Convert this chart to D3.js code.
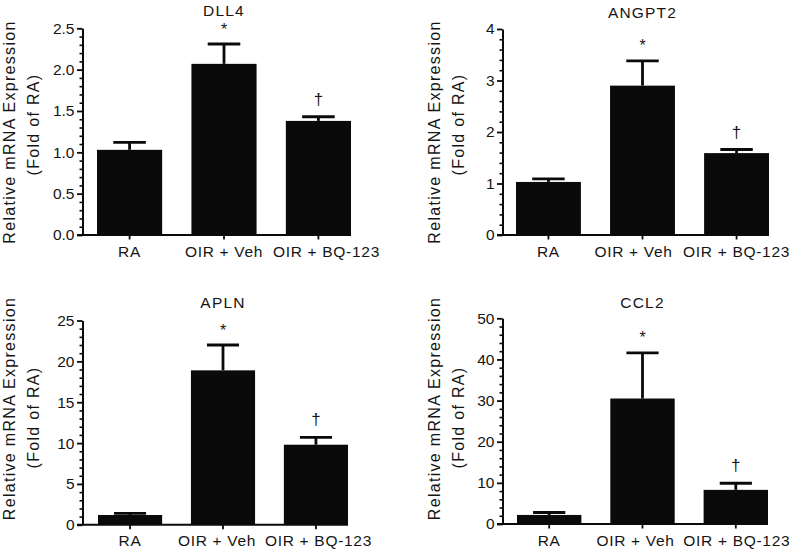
<!DOCTYPE html>
<html><head><meta charset="utf-8">
<script src="https://cdn.jsdelivr.net/npm/d3@7"></script>
<style>
body{margin:0;background:#fff}
svg{display:block}
text{font-family:"Liberation Sans",Arial,sans-serif;fill:#151515}
</style>
</head><body><svg id="c" width="797" height="550"></svg>
<script>
// ---------------- data ----------------
const categories = ["RA", "OIR + Veh", "OIR + BQ-123"];
const panelTitles = ["DLL4", "ANGPT2", "APLN", "CCL2"];
const dll4Mean = [1.03, 2.07, 1.38];
const dll4Err  = [0.09, 0.24, 0.05];
const angpt2Mean = [1.03, 2.90, 1.59];
const angpt2Err  = [0.06, 0.48, 0.07];
const aplnMean = [1.2, 18.9, 9.8];
const aplnErr  = [0.2, 3.1, 0.9];
const ccl2Mean = [2.2, 30.5, 8.3];
const ccl2Err  = [0.6, 11.1, 1.6];
const sigMarks = ["", "*", "\u2020"];
const yMaxima = [2.5, 4, 25, 50];
const yMajorSteps = [0.5, 1, 5, 10];
const yMinorSteps = [0.1, 0.2, 1, 2];
const yTickFormats = [".1f", "d", "d", "d"];
const yTitleLines = ["Relative mRNA Expression", "(Fold of RA)"];

const means = [dll4Mean, angpt2Mean, aplnMean, ccl2Mean];
const errs = [dll4Err, angpt2Err, aplnErr, ccl2Err];

// ---------------- layout ----------------
const layout = [
  {ax: 82.5,  top: 28.3,  bottom: 235,   bars: [97, 351],  titleY: 16,  yt: [9, 132, 33, 124.5],     ldx: [0, 0, 8]},
  {ax: 502.5, top: 29,    bottom: 235,   bars: [516, 769], titleY: 18,  yt: [434, 132, 458, 124.5],  ldx: [0, -9, 0]},
  {ax: 82.5,  top: 320.5, bottom: 524.8, bars: [98, 348],  titleY: 308, yt: [9, 408.5, 33.5, 417.5], ldx: [0, -6, 2.5]},
  {ax: 502.5, top: 318.3, bottom: 524,   bars: [517, 768], titleY: 308, yt: [434, 408.5, 458, 417.5], ldx: [0, -7, 1]}
];
const sigStyle = {"*": {dy: 9.5, size: 16}, "\u2020": {dy: 12, size: 17}, "": {dy: 0, size: 16}};

const svg = d3.select("#c");
const ink = "#0a0a0a";

panelTitles.forEach((name, i) => {
  const L = layout[i];
  const g = svg.append("g");
  const y = d3.scaleLinear().domain([0, yMaxima[i]]).range([L.bottom, L.top]);
  const x = d3.scaleBand().domain(categories).range(L.bars).paddingInner(0.31).paddingOuter(0);

  const majors = d3.range(0, yMaxima[i] + 1e-9, yMajorSteps[i]);
  const minors = d3.range(0, yMaxima[i] + 1e-9, yMinorSteps[i])
    .filter(v => !majors.some(m => Math.abs(m - v) < 1e-6));

  // bars
  g.selectAll("rect.bar").data(categories).join("rect")
    .attr("x", d => x(d)).attr("width", x.bandwidth())
    .attr("y", (d, k) => y(means[i][k]))
    .attr("height", (d, k) => y(0) - y(means[i][k]))
    .attr("fill", ink);

  // error bars (upper only)
  const eb = g.selectAll("g.eb").data(categories).join("g");
  eb.append("line")
    .attr("x1", d => x(d) + x.bandwidth() / 2).attr("x2", d => x(d) + x.bandwidth() / 2)
    .attr("y1", (d, k) => y(means[i][k]))
    .attr("y2", (d, k) => y(means[i][k] + errs[i][k]))
    .attr("stroke", ink).attr("stroke-width", 2.8);
  eb.append("line")
    .attr("x1", d => x(d) + x.bandwidth() * 0.25).attr("x2", d => x(d) + x.bandwidth() * 0.75)
    .attr("y1", (d, k) => y(means[i][k] + errs[i][k]))
    .attr("y2", (d, k) => y(means[i][k] + errs[i][k]))
    .attr("stroke", ink).attr("stroke-width", 2.8);

  // significance marks
  g.selectAll("text.sig").data(categories).join("text")
    .attr("x", d => x(d) + x.bandwidth() / 2)
    .attr("y", (d, k) => y(means[i][k] + errs[i][k]) - sigStyle[sigMarks[k]].dy)
    .attr("text-anchor", "middle")
    .style("font-size", (d, k) => sigStyle[sigMarks[k]].size + "px")
    .text((d, k) => sigMarks[k]);

  // y axis: minor ticks
  g.append("g").attr("transform", `translate(${L.ax},0)`)
    .call(d3.axisLeft(y).tickValues(minors).tickSize(3).tickFormat(""))
    .call(a => a.select(".domain").remove())
    .call(a => a.selectAll("line").attr("stroke", ink).attr("stroke-width", 1.6));
  // y axis: major ticks + labels
  g.append("g").attr("transform", `translate(${L.ax},0)`)
    .call(d3.axisLeft(y).tickValues(majors).tickSize(5.5).tickPadding(2.5)
      .tickFormat(d3.format(yTickFormats[i])).tickSizeOuter(0))
    .call(a => a.select(".domain").attr("stroke", ink).attr("stroke-width", 2))
    .call(a => a.selectAll("line").attr("stroke", ink).attr("stroke-width", 1.8))
    .call(a => a.selectAll("text").style("font-size", "15.5px").attr("fill", "#151515"));

  // x axis
  g.append("line")
    .attr("x1", L.ax - 5.5).attr("x2", L.bars[1])
    .attr("y1", y(0)).attr("y2", y(0))
    .attr("stroke", ink).attr("stroke-width", 2);
  g.append("g").attr("transform", `translate(0,${y(0)})`)
    .call(d3.axisBottom(x).tickSize(4.5).tickPadding(6).tickSizeOuter(0))
    .call(a => a.select(".domain").remove())
    .call(a => a.selectAll("line").attr("stroke", ink).attr("stroke-width", 1.8))
    .call(a => a.selectAll("text").style("font-size", "15.5px").style("letter-spacing", "0.7px")
      .attr("dx", (d, k) => L.ldx[k]).attr("fill", "#151515"));

  // panel title
  g.append("text")
    .attr("x", (L.bars[0] + L.bars[1]) / 2).attr("y", L.titleY)
    .attr("text-anchor", "middle").style("font-size", "15.5px").style("letter-spacing", "1.2px")
    .text(name);

  // y title (two lines)
  yTitleLines.forEach((t, j) => {
    const cx = L.yt[j * 2], cy = L.yt[j * 2 + 1];
    g.append("text")
      .attr("transform", `translate(${cx},${cy}) rotate(-90)`)
      .attr("text-anchor", "middle").attr("dominant-baseline", "central")
      .style("font-size", "16px").style("letter-spacing", "1.3px")
      .text(t);
  });
});
</script>
</body></html>
